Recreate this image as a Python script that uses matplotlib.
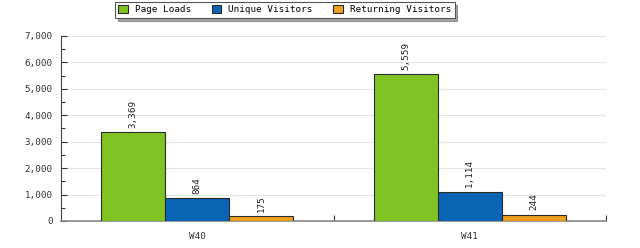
import numpy as np
import matplotlib
matplotlib.use("Agg")
import matplotlib.pyplot as plt
from matplotlib.ticker import FuncFormatter, MultipleLocator

# data
weeks = ["W40", "W41"]
series = ["Page Loads", "Unique Visitors", "Returning Visitors"]
page_loads = [3369, 5559]
unique_visitors = [864, 1114]
returning_visitors = [175, 244]
colors = ["#80C424", "#0A64B4", "#F0A01E"]

plt.rcParams["font.family"] = "DejaVu Sans Mono"
fs = 6.7

fig = plt.figure(figsize=(6.4, 2.48), dpi=100)
ax = fig.add_axes([0.0953, 0.109, 0.8517, 0.746])

x = np.arange(len(weeks))
width = 0.235
values = [page_loads, unique_visitors, returning_visitors]
for i, (name, vals, c) in enumerate(zip(series, values, colors)):
    pos = x + (i - 1) * width
    bars = ax.bar(pos, vals, width, color=c, edgecolor="#2a2a2a", linewidth=0.8,
                  label=name, zorder=3)
    for b, v in zip(bars, vals):
        ax.annotate(f"{v:,}", (b.get_x() + b.get_width() / 2, v),
                    xytext=(0, 3), textcoords="offset points", rotation=90,
                    ha="center", va="bottom", fontsize=fs, color="#222222")

ax.set_xlim(-0.5, 1.5)
ax.set_ylim(0, 7000)
ax.yaxis.set_major_locator(MultipleLocator(1000))
ax.yaxis.set_minor_locator(MultipleLocator(500))
ax.yaxis.set_major_formatter(FuncFormatter(lambda v, p: f"{int(v):,}"))
ax.set_xticks(x)
ax.set_xticklabels(weeks)
ax.set_xticks([0.5, 1.5], minor=True)

ax.tick_params(axis="y", which="major", direction="in", length=4, width=0.8,
               labelsize=fs, pad=6, colors="#333333")
ax.tick_params(axis="y", which="minor", direction="in", length=3, width=0.8,
               colors="#333333")
ax.tick_params(axis="x", which="major", length=0, labelsize=fs, pad=8,
               colors="#333333")
ax.tick_params(axis="x", which="minor", direction="in", length=4, width=0.8,
               colors="#333333")

ax.grid(axis="y", color="#e4e4e4", linewidth=0.8, zorder=0)
for s in ["top", "right"]:
    ax.spines[s].set_visible(False)
ax.spines["left"].set_color("#444444")
ax.spines["bottom"].set_color("#888888")
ax.spines["bottom"].set_linewidth(1.2)

leg = fig.legend(loc="upper center", bbox_to_anchor=(0.445, 1.0), ncol=3,
                 fontsize=fs, frameon=True, fancybox=False, shadow=True,
                 handlelength=1.0, handleheight=1.0, columnspacing=2.2,
                 borderpad=0.35, handletextpad=0.8, borderaxespad=0.2)
leg.get_frame().set_edgecolor("#555555")
leg.get_frame().set_linewidth(0.8)

fig.savefig("out.png", dpi=100)
